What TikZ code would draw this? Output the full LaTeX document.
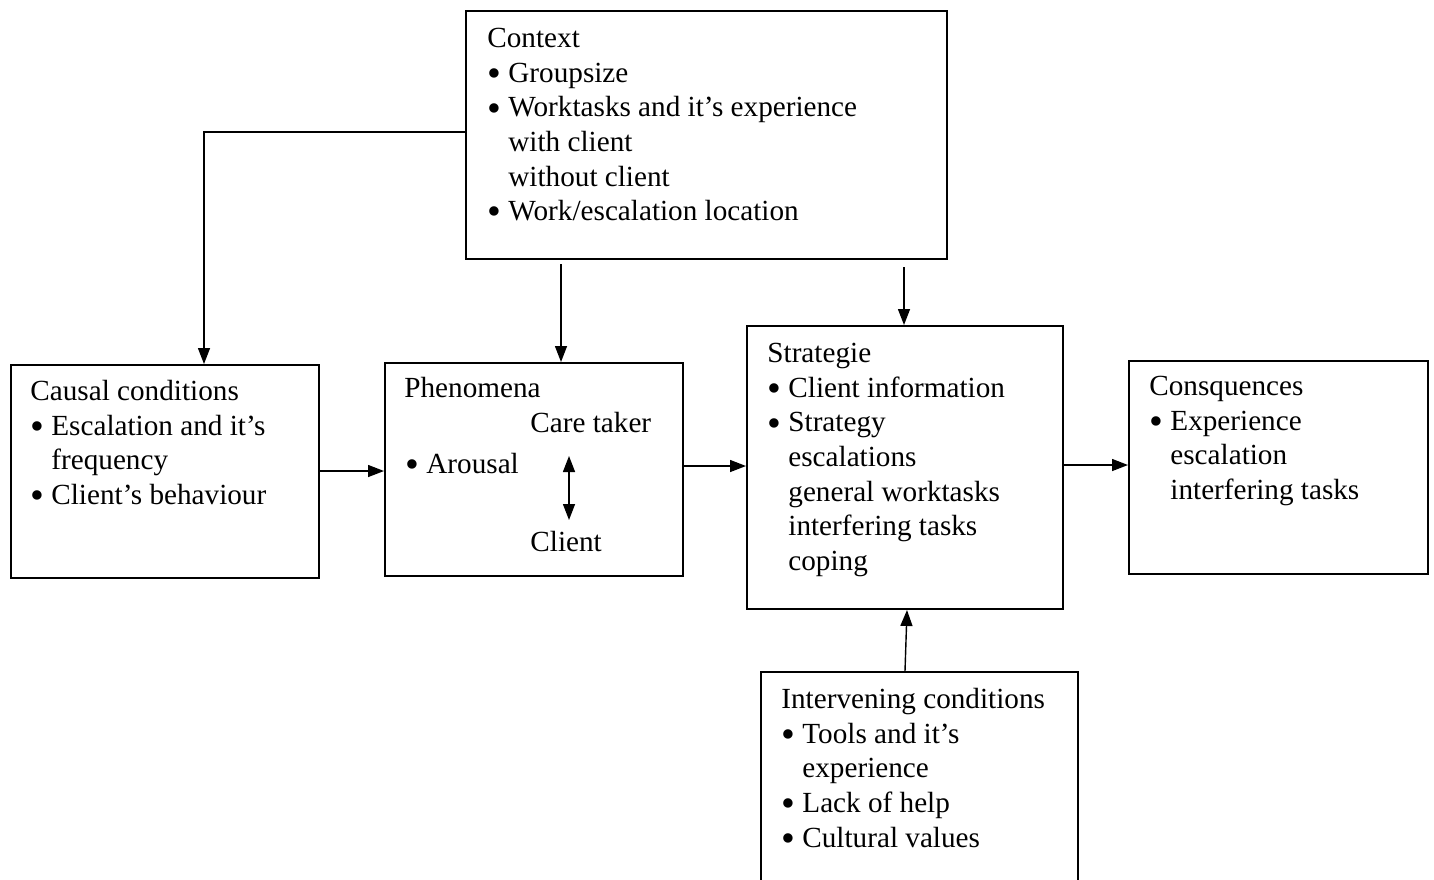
\documentclass[tikz,border=0pt]{standalone}
\usepackage{fontspec}
\setmainfont{Liberation Serif}
\usetikzlibrary{arrows.meta,calc}
\newcommand\bu{\makebox[10.5pt][l]{\raisebox{-0.14em}{\scalebox{1.35}{\textbullet}}}}
\newcommand\ind{\hspace*{10.5pt}}
\begin{document}
\begin{tikzpicture}[x=0.5pt,y=-0.5pt,
  box/.style={draw,line width=1pt,inner sep=0pt,anchor=north west},
  txt/.style={anchor=north west,align=left,inner sep=0pt,font=\fontsize{14.6}{17.3}\selectfont,
    execute at begin node={\rule{0pt}{10pt}}},
  arr/.style={line width=0.7pt,-{Triangle[length=8pt,width=6pt]}},
  dbl/.style={line width=0.7pt,{Triangle[length=8pt,width=6pt]}-{Triangle[length=8pt,width=6pt]}}]
\useasboundingbox (0,0) rectangle (1434,879);
\begin{scope}
\clip (0,0) rectangle (1434,879);
% boxes
\node[box,minimum width=240.5pt,minimum height=124pt] (ctx) at (465,10) {};
\node[box,minimum width=154pt,minimum height=106.5pt] (cau) at (10,364) {};
\node[box,minimum width=149pt,minimum height=106.5pt] (phe) at (384,362) {};
\node[box,minimum width=158pt,minimum height=141.5pt] (str) at (746,325) {};
\node[box,minimum width=149.5pt,minimum height=106.5pt] (con) at (1128,360) {};
\node[box,minimum width=158.5pt,minimum height=112pt] (int) at (760,671) {};
\end{scope}
% texts (position = first baseline minus 20px)
\node[txt] (tctx) at (487,28) {Context\\ \bu Groupsize\\ \bu Worktasks and it’s experience\\ \ind with client\\ \ind without client\\ \bu Work/escalation location};
\node[txt] (tcau) at (30,380) {Causal conditions\\ \bu Escalation and it’s\\ \ind frequency\\ \bu Client’s behaviour};
\node[txt] (tphe) at (404,377) {Phenomena};
\node[txt] (tcare) at (530,412) {Care taker};
\node[txt] (taro) at (405,453) {\bu Arousal};
\node[txt] (tcli) at (530,531) {Client};
\node[txt] (tstr) at (767,343) {Strategie\\ \bu Client information\\ \bu Strategy\\ \ind escalations\\ \ind general worktasks\\ \ind interfering tasks\\ \ind coping};
\node[txt] (tcon) at (1149,376) {Consquences\\ \bu Experience\\ \ind escalation\\ \ind interfering tasks};
\node[txt] (tint) at (781,688) {Intervening conditions\\ \bu Tools and it’s\\ \ind experience\\ \bu Lack of help\\ \bu Cultural values};
% connectors
\coordinate (c1) at ($(561,0 |- ctx.south)+(0,4)$);
\coordinate (c2) at ($(904,0 |- ctx.south)+(0,7)$);
\coordinate (ct) at (569,456);
\coordinate (cb) at (569,520);
\draw[arr] (ctx.west |- 0,132) -| (204,0 |- cau.north);
\draw[arr] (c1) -- (c1 |- phe.north);
\draw[arr] (c2) -- (c2 |- str.north);
\draw[arr] (cau.east |- 0,471) -- (phe.west |- 0,471);
\draw[arr] (phe.east |- 0,466) -- (str.west |- 0,466);
\draw[arr] (str.east |- 0,465) -- (con.west |- 0,465);
\draw[arr] (905,0 |- int.north) -- (907,0 |- str.south);
\draw[dbl] (ct) -- (cb);
\end{tikzpicture}
\end{document}
